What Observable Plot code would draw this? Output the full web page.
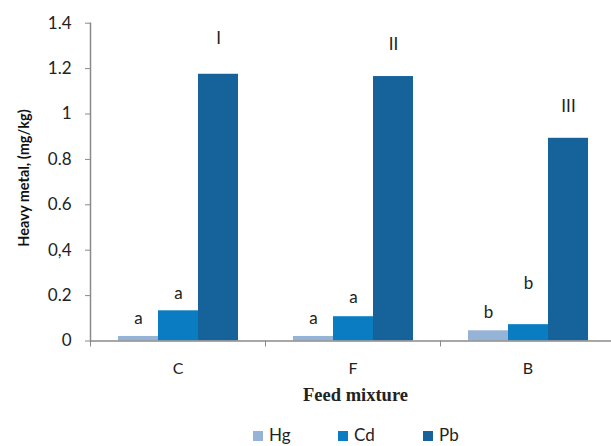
<!DOCTYPE html>
<html>
<head>
<meta charset="utf-8">
<script src="https://cdn.jsdelivr.net/npm/d3@7"></script>
<script src="https://cdn.jsdelivr.net/npm/@observablehq/plot@0.6"></script>
<style>
  html, body { margin: 0; padding: 0; background: #fff; overflow: hidden; }
  #wrap { width: 611px; height: 446px; position: relative; font-family: Lato, "Open Sans", sans-serif; }
  #wrap svg { font-family: Lato, "Open Sans", sans-serif; }
  #ytitle { position: absolute; left: 23px; top: 178px; transform: translate(-50%, -50%) rotate(-90deg);
    white-space: nowrap; font-weight: bold; font-size: 14.5px; color: #111; }
  #xtitle { position: absolute; left: 100px; top: 385px; width: 511px; text-align: center;
    font-family: "Liberation Serif", "DejaVu Serif", serif; font-weight: bold; font-size: 18.5px; color: #222; }
  #legend { position: absolute; left: 253px; top: 426px; line-height: 18px; white-space: nowrap; font-size: 17px; color: #222; }
  #legend .item { display: inline-block; width: 85px; }
  #legend .sw { display: inline-block; width: 10px; height: 10px; margin-right: 6px; vertical-align: 0px; }
</style>
</head>
<body>
<div id="wrap">
  <div id="chart"></div>
  <div id="ytitle">Heavy metal, (mg/kg)</div>
  <div id="xtitle">Feed mixture</div>
  <div id="legend"></div>
</div>
<script>
// ---- data ----
const groups = ["C", "F", "B"];
const metals = ["Hg", "Cd", "Pb"];
const hgValues = [0.02, 0.02, 0.045];
const cdValues = [0.133, 0.107, 0.072];
const pbValues = [1.175, 1.165, 0.893];
const hgLetters = ["a", "a", "b"];
const cdLetters = ["a", "a", "b"];
const pbLetters = ["I", "II", "III"];
// heights (in mg/kg) at which the significance letters sit
const hgLetterAt = [0.099, 0.099, 0.126];
const cdLetterAt = [0.209, 0.192, 0.253];
const pbLetterAt = [1.333, 1.306, 1.031];
const yTicks = [0, 0.2, 0.4, 0.6, 0.8, 1, 1.2, 1.4];
const yTickLabels = ["0", "0.2", "0,4", "0.6", "0.8", "1", "1.2", "1.4"];
const metalColors = ["#95b3d7", "#0a7dc2", "#16629a"];

// ---- build table ----
const series = {
  Hg: {values: hgValues, letters: hgLetters, at: hgLetterAt},
  Cd: {values: cdValues, letters: cdLetters, at: cdLetterAt},
  Pb: {values: pbValues, letters: pbLetters, at: pbLetterAt}
};
const rows = [];
groups.forEach((g, i) => {
  metals.forEach(m => {
    rows.push({group: g, metal: m, value: series[m].values[i], letter: series[m].letters[i], letterY: series[m].at[i]});
  });
});
const tickLabel = new Map(yTicks.map((t, i) => [t, yTickLabels[i]]));

const axisGray = "#8a8a8a";
const chart = Plot.plot({
  width: 611,
  height: 380,
  marginLeft: 90,
  marginRight: -4,
  marginTop: 22.7,
  marginBottom: 39.5,
  fx: {domain: groups, paddingInner: 0, paddingOuter: 0, axis: null, label: null},
  x: {domain: metals, paddingInner: 0, paddingOuter: 0.6875, axis: null},
  y: {domain: [0, 1.4], axis: null},
  color: {domain: metals, range: metalColors},
  marks: [
    Plot.barY(rows, {fx: "group", x: "metal", y: "value", fill: "metal"}),
    Plot.ruleY([0], {stroke: axisGray, strokeWidth: 1.5}),
    Plot.frame({anchor: "left", facetAnchor: "left", stroke: axisGray, strokeWidth: 1.5}),
    Plot.axisY({
      ticks: yTicks,
      tickFormat: d => tickLabel.get(d),
      tickSize: 5,
      tickPadding: 14,
      stroke: axisGray,
      fill: "#222",
      fontSize: 17,
      label: null
    }),
    Plot.axisFx({anchor: "bottom", tickSize: 0, tickPadding: 22, fontSize: 16, fill: "#222", label: null}),
    Plot.axisFx({anchor: "bottom", tickSize: 6, text: null, label: null, stroke: axisGray, dx: -87.5}),
    Plot.text(rows, {fx: "group", x: "metal", y: "letterY", text: "letter", fontSize: 17, fill: "#222"})
  ]
});
document.getElementById("chart").appendChild(chart);

// ---- legend ----
const legend = document.getElementById("legend");
metals.forEach((m, i) => {
  const item = document.createElement("span");
  item.className = "item";
  const sw = document.createElement("span");
  sw.className = "sw";
  sw.style.background = metalColors[i];
  item.appendChild(sw);
  item.appendChild(document.createTextNode(m));
  legend.appendChild(item);
});
</script>
</body>
</html>
